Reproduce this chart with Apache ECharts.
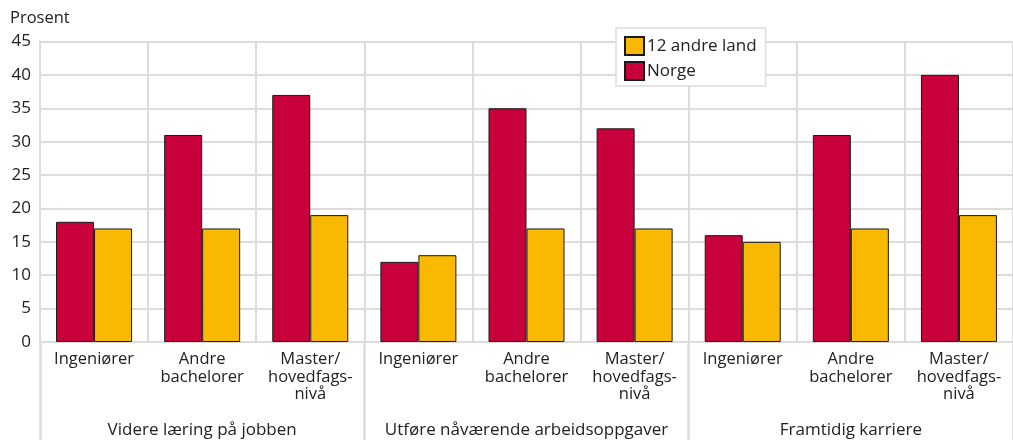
<!DOCTYPE html>
<html>
<head>
<meta charset="utf-8">
<script src="https://cdn.jsdelivr.net/npm/echarts@6/dist/echarts.min.js"></script>
<style>
  html, body { margin: 0; padding: 0; background: #fff; }
  #chart { width: 1013px; height: 440px; }
</style>
</head>
<body>
<div id="chart"></div>
<script>
// Educational level within each purpose group
const categories = [
  'Ingeniører', 'Andre\nbachelorer', 'Master/\nhovedfags-\nnivå',
  'Ingeniører', 'Andre\nbachelorer', 'Master/\nhovedfags-\nnivå',
  'Ingeniører', 'Andre\nbachelorer', 'Master/\nhovedfags-\nnivå'
];
// Purpose groups, each spanning three categories
const groups = ['Videre læring på jobben', 'Utføre nåværende arbeidsoppgaver', 'Framtidig karriere'];

// Share (percent)
const norge = [18, 31, 37, 12, 35, 32, 16, 31, 40];
const andreLand = [17, 17, 19, 13, 17, 17, 15, 17, 19];

const yTicks = { min: 0, max: 45, interval: 5 };

const FONT = 'Open Sans';
const GRID_COLOR = '#dcdcdc';

const chart = echarts.init(document.getElementById('chart'), null, { renderer: 'canvas' });

chart.setOption({
  animation: false,
  textStyle: { fontFamily: FONT },
  title: {
    text: 'Prosent',
    left: 5, top: 5,
    textStyle: { fontFamily: FONT, fontSize: 16.5, fontWeight: 'normal', color: '#222' }
  },
  legend: {
    orient: 'vertical',
    left: 616, top: 28,
    data: ['12 andre land', 'Norge'],
    icon: 'rect',
    itemWidth: 19, itemHeight: 18, itemGap: 5,
    padding: [8, 9, 5, 8],
    backgroundColor: '#fff',
    borderColor: '#dcdcdc', borderWidth: 1.5,
    textStyle: { fontFamily: FONT, fontSize: 17, color: '#222', padding: [0, 0, 0, -2] }
  },
  grid: { left: 40, top: 41.5, width: 977, bottom: 98, containLabel: false },
  xAxis: [
    {
      type: 'category',
      data: categories,
      position: 'bottom',
      axisLine: { show: true, lineStyle: { color: GRID_COLOR, width: 2 } },
      axisTick: { show: false },
      splitLine: { show: true, lineStyle: { color: GRID_COLOR, width: 2 } },
      axisLabel: {
        interval: 0, margin: 9,
        fontFamily: FONT, fontSize: 16.5, lineHeight: 17.5, color: '#222', align: 'center'
      }
    },
    {
      type: 'category',
      data: groups,
      position: 'bottom',
      offset: 0,
      axisLine: { show: false },
      axisTick: { show: true, length: 100, lineStyle: { color: GRID_COLOR, width: 2.5 } },
      splitLine: { show: false },
      axisLabel: {
        interval: 0, margin: 80,
        fontFamily: FONT, fontSize: 17, color: '#222'
      }
    }
  ],
  yAxis: {
    type: 'value',
    min: yTicks.min, max: yTicks.max, interval: yTicks.interval,
    axisLine: { show: true, lineStyle: { color: GRID_COLOR, width: 2 } },
    axisTick: { show: false },
    splitLine: { show: true, lineStyle: { color: GRID_COLOR, width: 2 } },
    axisLabel: { margin: 9, fontFamily: FONT, fontSize: 17, color: '#222' }
  },
  series: [
    {
      name: 'Norge',
      type: 'bar',
      data: norge,
      barWidth: 38,
      barGap: '0%',
      itemStyle: { color: '#C8003C', borderColor: '#1a1a1a', borderWidth: 1 }
    },
    {
      name: '12 andre land',
      type: 'bar',
      data: andreLand,
      barWidth: 38,
      itemStyle: { color: '#F9B900', borderColor: '#1a1a1a', borderWidth: 1 }
    }
  ]
});
</script>
</body>
</html>
